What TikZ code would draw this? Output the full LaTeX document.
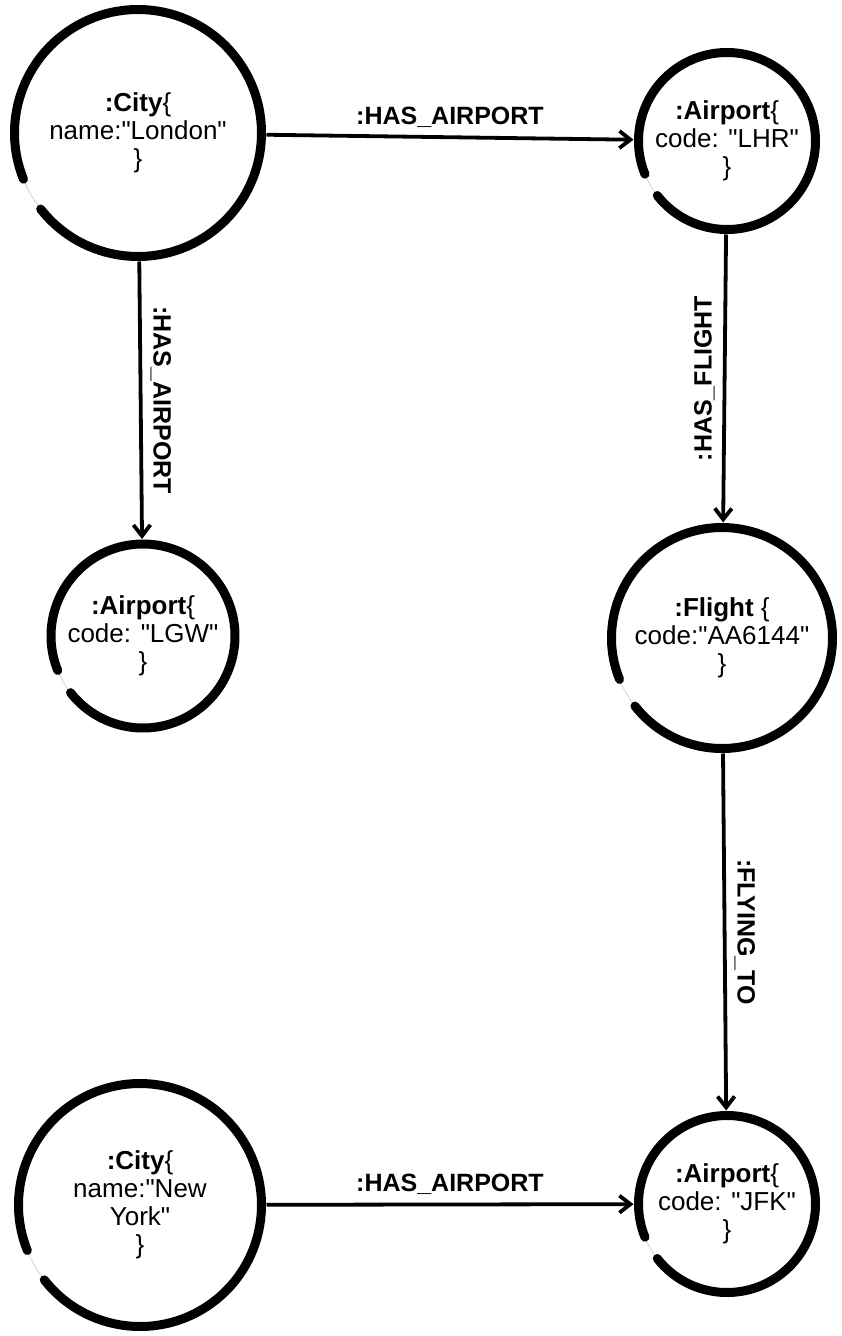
\documentclass[tikz,border=0pt]{standalone}
\usepackage{fontspec}
\setmainfont{Liberation Sans}[Ligatures=TeXOff]
\usetikzlibrary{arrows.meta}

% thick hand-drawn rim with a small gap at the lower left
\newcommand{\rimof}[2]{\draw[rim] (#1.center) ++(218:#2) arc[start angle=218, delta angle=344, radius=#2];}

\begin{document}
\begin{tikzpicture}[
                    x=1pt, y=1pt,
                    entity/.style={
                        circle,
                        draw=gray!45,
                        line width=0.6pt,
                        inner sep=0pt,
                        outer sep=5pt,
                        align=center,
                        font=\fontsize{26}{28}\selectfont
                    },
                    rim/.style={line width=9pt, line cap=round},
                    rel/.style={line width=3.8pt, -{Straight Barb[length=11pt, width=17pt]}},
                    rlabel/.style={font=\fontsize{25}{28}\selectfont\bfseries, inner sep=8pt}
                ]
                    \useasboundingbox (0,0) rectangle (842,-1336);

                    \node[entity, minimum size=247pt] (london) at (138,-133) {\textbf{:City}\{\\name:"London"\\\}};
                    \node[entity, minimum size=177pt] (lhr) at (727,-141) {\textbf{:Airport}\{\\code: "LHR"\\\}};
                    \node[entity, minimum size=184pt] (lgw) at (143,-636) {\textbf{:Airport}\{\\code: "LGW"\\\}};
                    \node[entity, minimum size=221pt] (flight) at (722,-638) {\textbf{:Flight} \{\\code:"AA6144"\\\}};
                    \node[entity, minimum size=243pt] (newyork) at (140,-1205) {\textbf{:City}\{\\name:"New\\York"\\\}};
                    \node[entity, minimum size=177pt] (jfk) at (727,-1204) {\textbf{:Airport}\{\\code: "JFK"\\\}};

                    % Rims
                    \rimof{london}{123.5pt}
                    \rimof{lhr}{88.5pt}
                    \rimof{lgw}{92pt}
                    \rimof{flight}{110.5pt}
                    \rimof{newyork}{121.5pt}
                    \rimof{jfk}{88.5pt}

                    % Edges
                    \draw[rel] (london) -- node[rlabel, above] (londonair) {:HAS\_AIRPORT} (lhr);
                    \draw[rel] (london) -- node[rlabel, above, rotate=-90] (londonair2) {:HAS\_AIRPORT} (lgw);
                    \draw[rel] (lhr) -- node[rlabel, above, rotate=90] (lhrflight) {:HAS\_FLIGHT} (flight);
                    \draw[rel] (flight) -- node[rlabel, above, rotate=-90] (flyingto) {:FLYING\_TO} (jfk);
                    \draw[rel] (newyork) -- node[rlabel, above] (newyorkair) {:HAS\_AIRPORT} (jfk);
                \end{tikzpicture}
\end{document}
